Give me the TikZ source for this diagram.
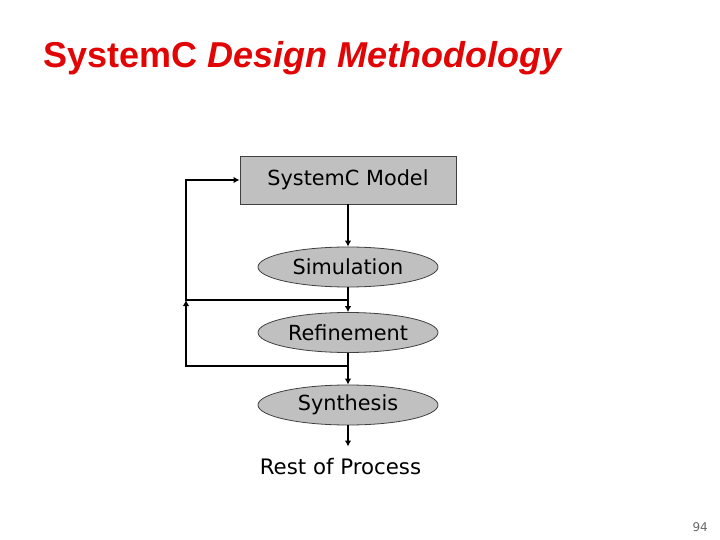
\documentclass[tikz,border=0pt]{standalone}
\usepackage{fontspec}
\usepackage{xcolor}
\usepackage{tikz}
\usetikzlibrary{shapes.geometric,arrows.meta,positioning}
\setmainfont{DejaVu Sans}
\newfontfamily\titlefont{Liberation Sans}
\definecolor{titlered}{RGB}{225,5,5}
\definecolor{boxgray}{RGB}{192,192,192}

\begin{document}
\begin{tikzpicture}[x=1bp, y=-1bp,
    flow/.style={line width=1.9bp, -{Latex[length=6bp,width=6.5bp]}},
    stagebox/.style={draw=black!75, line width=0.8bp, fill=boxgray, inner sep=0pt,
        font=\fontsize{20.8bp}{24bp}\selectfont},
    stage/.style={stagebox, ellipse, minimum width=180bp, minimum height=40bp}]
    \useasboundingbox (0,0) rectangle (720,540);

    % title and page number
    \node[anchor=base west, inner sep=0pt, text=titlered, font=\titlefont\fontsize{36bp}{40bp}\selectfont\bfseries]
        (title) at (43,68) {SystemC \textit{Design Methodology}};
    \node[anchor=base east, inner sep=0pt, text=black!60, font=\fontsize{12bp}{14bp}\selectfont]
        (pagenum) at (708,531) {94};

    % flow
    \node[stagebox, rectangle, minimum width=216bp, minimum height=48bp] (model) at (348,180) {SystemC Model};
    \node[stage] (sim) at (348,267) {Simulation};
    \node[stage] (refine) at (348,332.5) {Refinement};
    \node[stage] (synth) at (348,405) {Synthesis};
    \node[inner xsep=0pt, inner ysep=12bp, font=\fontsize{21.3bp}{24bp}\selectfont] (rest) at (340.5,467) {Rest of Process};

    \coordinate (loopx) at (186,0);
    \coordinate (fb1) at (348,300);
    \coordinate (fb2) at (348,366);

    \draw[flow] (model) -- (sim);
    \draw[flow] (sim) -- (refine);
    \draw[flow] (refine) -- (synth);
    \draw[flow] (synth.south) -- (synth.south |- rest.north);
    % feedback loops
    \draw[flow] (fb1) -- (fb1 -| loopx) |- (model.west);
    \draw[flow] (fb2) -| (fb1 -| loopx);
\end{tikzpicture}
\end{document}
